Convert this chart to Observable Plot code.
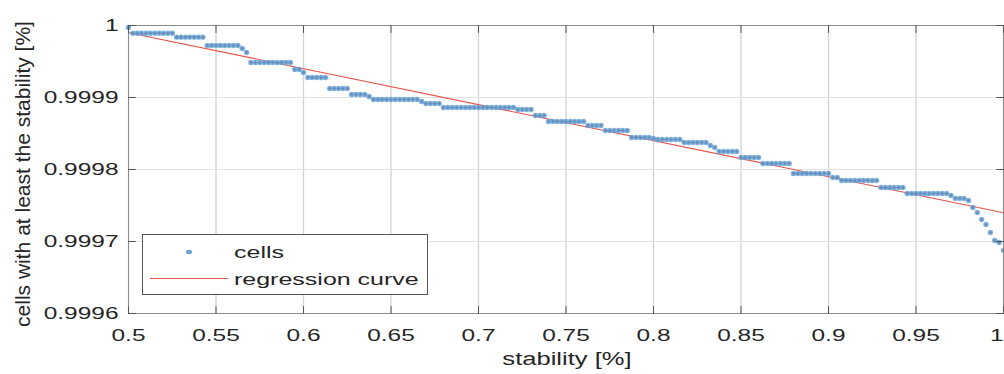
<!DOCTYPE html>
<html>
<head>
<meta charset="utf-8">
<script src="https://cdn.jsdelivr.net/npm/d3@7"></script>
<script src="https://cdn.jsdelivr.net/npm/@observablehq/plot@0.6"></script>
<style>
  html, body { margin: 0; padding: 0; background: #fff; }
  #wrap { position: relative; width: 1004px; height: 374px; overflow: hidden; font-family: "Liberation Sans", Arial, sans-serif; color: #262626; }
  .lab { position: absolute; white-space: nowrap; line-height: 1; }
  #legend { position: absolute; left: 142px; top: 234px; width: 284px; height: 59px; border: 1px solid #555; background: #fff; }
  #legend .txt { position: absolute; left: 91px; font-size: 17px; line-height: 1; transform-origin: 0 50%; transform: translateY(-50%) scaleX(1.47); white-space: nowrap; }
</style>
</head>
<body>
<div id="wrap"></div>
<script>
// ---- data ----
const xTicks = [0.5, 0.55, 0.6, 0.65, 0.7, 0.75, 0.8, 0.85, 0.9, 0.95, 1];
const xTickLabels = ["0.5", "0.55", "0.6", "0.65", "0.7", "0.75", "0.8", "0.85", "0.9", "0.95", "1"];
const yTicks = [0.9996, 0.9997, 0.9998, 0.9999, 1];
const yTickLabels = ["0.9996", "0.9997", "0.9998", "0.9999", "1"];

const stabilityStart = 0.5;
const stabilityStep = 0.0025;
const cellValues = [
  0.9999972,
  0.9999893, 0.9999893, 0.9999893, 0.9999893, 0.9999893, 0.9999893, 0.9999893, 0.9999893, 0.9999893, 0.9999893,
  0.9999838, 0.9999838, 0.9999838, 0.9999838, 0.9999838, 0.9999838, 0.9999838,
  0.9999722, 0.9999722, 0.9999722, 0.9999722, 0.9999722, 0.9999722, 0.9999722, 0.9999722,
  0.9999681, 0.9999625,
  0.9999486, 0.9999486, 0.9999486, 0.9999486, 0.9999486, 0.9999486, 0.9999486, 0.9999486, 0.9999486, 0.9999486,
  0.9999389, 0.9999389, 0.9999347,
  0.9999278, 0.9999278, 0.9999278, 0.9999278, 0.9999278,
  0.9999125, 0.9999125, 0.9999125, 0.9999125, 0.9999125,
  0.9999042, 0.9999042, 0.9999042, 0.9999042, 0.9999014,
  0.9998972, 0.9998972, 0.9998972, 0.9998972, 0.9998972, 0.9998972, 0.9998972, 0.9998972, 0.9998972, 0.9998972, 0.9998972,
  0.9998944,
  0.9998917, 0.9998917, 0.9998917, 0.9998917,
  0.9998861, 0.9998861, 0.9998861, 0.9998861, 0.9998861, 0.9998861, 0.9998861, 0.9998861, 0.9998861, 0.9998861,
  0.9998861, 0.9998861, 0.9998861, 0.9998861, 0.9998861, 0.9998861, 0.9998861,
  0.9998833, 0.9998833, 0.9998833, 0.9998833,
  0.9998750, 0.9998750, 0.9998750,
  0.9998667, 0.9998667, 0.9998667, 0.9998667, 0.9998667, 0.9998667, 0.9998667, 0.9998667, 0.9998667,
  0.9998611, 0.9998611, 0.9998611, 0.9998611,
  0.9998542, 0.9998542, 0.9998542, 0.9998542, 0.9998542, 0.9998542,
  0.9998444, 0.9998444, 0.9998444, 0.9998444, 0.9998444, 0.9998431,
  0.9998417, 0.9998417, 0.9998417, 0.9998417, 0.9998417, 0.9998417,
  0.9998375, 0.9998375, 0.9998375, 0.9998375, 0.9998375, 0.9998375,
  0.9998333, 0.9998306,
  0.9998250, 0.9998250, 0.9998250, 0.9998250, 0.9998250,
  0.9998167, 0.9998167, 0.9998167, 0.9998167, 0.9998167,
  0.9998083, 0.9998083, 0.9998083, 0.9998083, 0.9998083, 0.9998083, 0.9998083,
  0.9997944, 0.9997944, 0.9997944, 0.9997944, 0.9997944, 0.9997944, 0.9997944, 0.9997944, 0.9997944,
  0.9997889, 0.9997889,
  0.9997847, 0.9997847, 0.9997847, 0.9997847, 0.9997847, 0.9997847, 0.9997847, 0.9997847, 0.9997847,
  0.9997750, 0.9997750, 0.9997750, 0.9997750, 0.9997750, 0.9997750,
  0.9997667, 0.9997667, 0.9997667, 0.9997667, 0.9997667, 0.9997667, 0.9997667, 0.9997667, 0.9997667, 0.9997667,
  0.9997639, 0.9997597, 0.9997597, 0.9997597, 0.9997569,
  0.9997472, 0.9997403, 0.9997306, 0.9997236, 0.9997125, 0.9997014, 0.9996986, 0.9996875
];

const regressionStability = [0.5, 1];
const regressionValue = [0.99999, 0.99974];

// ---- tables ----
const cells = cellValues.map((v, i) => ({stability: stabilityStart + i * stabilityStep, value: v}));
const regression = regressionStability.map((s, i) => ({stability: s, value: regressionValue[i]}));

const tickShape = {draw(context, l) { context.moveTo(0, 0); context.lineTo(0, -l); }};
const tickStyle = {length: 7, anchor: "start", shape: tickShape, stroke: "#555", strokeWidth: 1};

const chart = Plot.plot({
  width: 1004,
  height: 374,
  marginLeft: 128,
  marginRight: 1,
  marginTop: 25,
  marginBottom: 61,
  style: {fontFamily: "'Liberation Sans', Arial, sans-serif", fontSize: "17px", color: "#262626", background: "#fff", overflow: "visible"},
  x: {domain: [0.5, 1]},
  y: {domain: [0.9996, 1]},
  marks: [
    Plot.gridX(xTicks, {stroke: "#d2d2d2", strokeOpacity: 1, strokeWidth: 1.3}),
    Plot.gridY(yTicks, {stroke: "#e3e3e3", strokeOpacity: 1}),
    Plot.line(regression, {x: "stability", y: "value", stroke: "#e8534a", strokeWidth: 1.1}),
    Plot.dot(cells, {x: "stability", y: "value", r: 2.7, fill: "#6aa2d6", fillOpacity: 0.85, stroke: "none"}),
    Plot.dot(cells, {x: "stability", y: "value", r: 1.3, fill: "#5a82b0", fillOpacity: 0.8, stroke: "none"}),
    Plot.frame({stroke: "#8c8c8c"}),
    Plot.vector(yTicks, {y: d => d, frameAnchor: "left", rotate: 90, ...tickStyle}),
    Plot.vector(yTicks, {y: d => d, frameAnchor: "right", rotate: -90, ...tickStyle}),
    Plot.vector(xTicks, {x: d => d, frameAnchor: "bottom", rotate: 0, ...tickStyle}),
    Plot.vector(xTicks, {x: d => d, frameAnchor: "top", rotate: 180, ...tickStyle}),
    Plot.axisX(xTicks, {anchor: "bottom", tickSize: 0, tickPadding: 15, label: null, tickFormat: d => xTickLabels[xTicks.indexOf(d)]}),
    Plot.axisY(yTicks, {anchor: "left", tickSize: 0, tickPadding: 10, label: null, tickFormat: d => yTickLabels[yTicks.indexOf(d)]})
  ]
});

// horizontally widen the tick labels, as in the reference
const SX = 1.44;
const xLabs = chart.querySelectorAll('g[aria-label="x-axis tick label"] text');
chart.querySelectorAll('g[aria-label="x-axis tick label"] text, g[aria-label="y-axis tick label"] text').forEach(t => {
  const tr = t.getAttribute("transform") || "";
  const x = +(t.getAttribute("x") || 0);
  t.removeAttribute("x");
  t.setAttribute("transform", `${tr} translate(${x},0) scale(${SX},1)`);
});
// keep the last x label ("1") inside the picture
if (xLabs.length) {
  const last = xLabs[xLabs.length - 1];
  last.setAttribute("text-anchor", "end");
}

const wrap = document.getElementById("wrap");
wrap.appendChild(chart);

// axis labels
const xl = document.createElement("div");
xl.className = "lab";
xl.textContent = "stability [%]";
xl.style.cssText = "left:567px; top:359px; font-size:18px; transform: translate(-50%,-50%) scaleX(1.42);";
wrap.appendChild(xl);

const yl = document.createElement("div");
yl.className = "lab";
yl.textContent = "cells with at least the stability [%]";
yl.style.cssText = "left:22px; top:174px; font-size:21px; transform: translate(-50%,-50%) rotate(-90deg);";
wrap.appendChild(yl);

// legend
const legend = document.createElement("div");
legend.id = "legend";
legend.innerHTML = `
  <svg width="284" height="59" style="position:absolute;left:0;top:0">
    <ellipse cx="46" cy="17" rx="3" ry="2.2" fill="#6aa2d6"></ellipse>
    <line x1="7" x2="85" y1="43.5" y2="43.5" stroke="#e8534a" stroke-width="1.1"></line>
  </svg>
  <div class="txt" style="top:17px">cells</div>
  <div class="txt" style="top:44px">regression curve</div>`;
wrap.appendChild(legend);
</script>
</body>
</html>
